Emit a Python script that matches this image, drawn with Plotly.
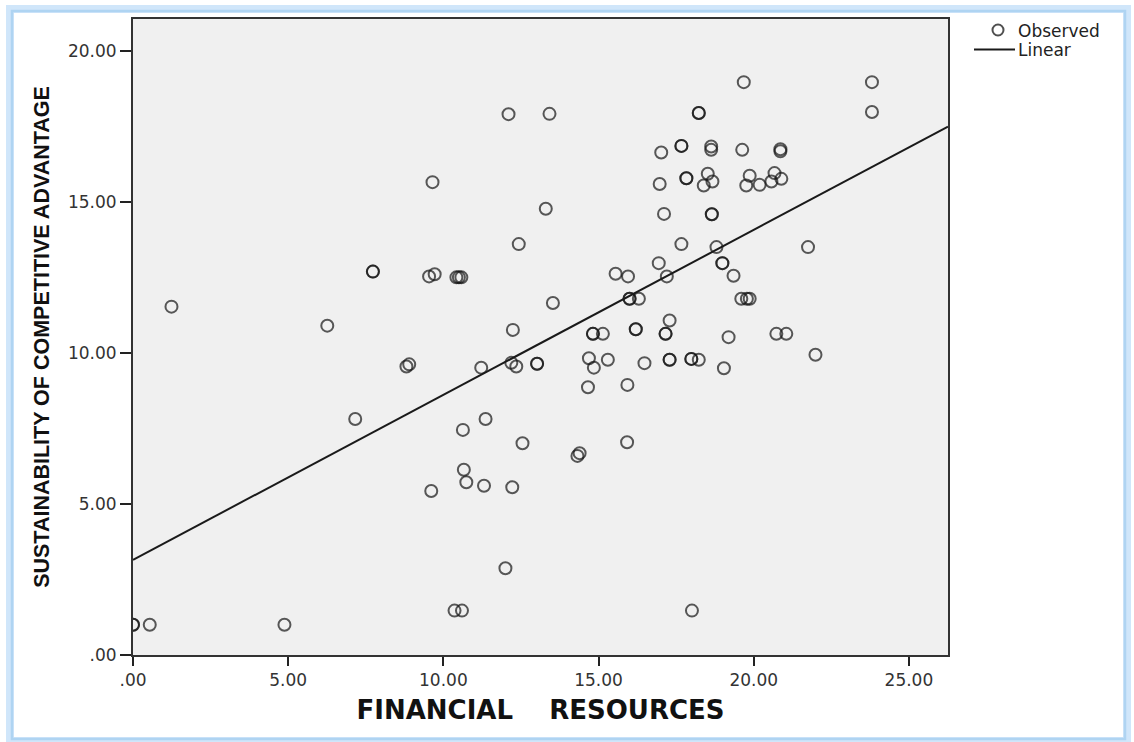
import plotly.graph_objects as go

# Observed scores, grouped in rows from the bottom of the scatter upward
financial_resources = [
    0.00, 0.00, 0.54, 4.88, 10.36, 10.60, 18.01, 12.00,
    9.61, 10.66, 10.74, 11.31, 12.22, 14.39, 14.32, 15.92, 12.55, 10.63, 11.36, 7.16,
    14.66, 15.93, 14.69, 15.30, 14.85, 16.48, 17.29, 17.29, 17.99, 17.99, 18.23, 19.04, 21.99,
    8.81, 8.90, 11.22, 12.19, 12.35, 13.02, 13.02,
    14.82, 14.82, 15.14, 16.20, 16.20, 17.16, 17.16, 17.29, 19.19, 20.73, 21.05, 12.24, 6.26, 1.24, 13.53,
    16.00, 16.00, 16.30, 19.60, 19.78, 19.87, 15.55, 15.95, 16.94, 17.20, 18.99, 18.99, 19.35,
    7.73, 7.73, 9.54, 9.72, 10.42, 10.50, 10.58,
    12.43, 17.67, 18.80, 21.75, 13.30, 17.11, 18.65, 18.65, 9.65, 16.97, 17.83, 17.83,
    18.52, 18.39, 18.67, 19.87, 19.76, 20.19, 20.67, 20.57, 20.89,
    17.02, 17.67, 17.67, 18.63, 18.63, 19.63, 20.86, 20.86,
    12.10, 13.42, 18.23, 18.23, 23.81, 23.81, 19.68,
]

competitive_advantage = [
    1.00, 1.00, 1.00, 1.00, 1.47, 1.47, 1.47, 2.87,
    5.43, 6.13, 5.72, 5.60, 5.55, 6.68, 6.59, 7.04, 7.01, 7.45, 7.81, 7.81,
    8.86, 8.94, 9.82, 9.77, 9.51, 9.66, 9.77, 9.77, 9.80, 9.80, 9.77, 9.49, 9.94,
    9.55, 9.62, 9.51, 9.67, 9.55, 9.64, 9.64,
    10.63, 10.63, 10.63, 10.78, 10.78, 10.63, 10.63, 11.07, 10.52, 10.63, 10.63, 10.76, 10.90, 11.53, 11.65,
    11.79, 11.79, 11.79, 11.79, 11.79, 11.79, 12.62, 12.53, 12.97, 12.53, 12.97, 12.97, 12.55,
    12.69, 12.69, 12.53, 12.60, 12.50, 12.50, 12.50,
    13.60, 13.60, 13.50, 13.50, 14.77, 14.60, 14.59, 14.59, 15.65, 15.59, 15.78, 15.78,
    15.93, 15.54, 15.67, 15.86, 15.54, 15.56, 15.95, 15.67, 15.76,
    16.63, 16.85, 16.85, 16.83, 16.72, 16.72, 16.74, 16.67,
    17.90, 17.91, 17.94, 17.94, 17.97, 18.96, 18.96,
]

# Linear fit (intercept, slope)
fit_intercept = 3.15
fit_slope = 0.546

x_range = [0, 26.26]
y_range = [0, 21.05]

x_ticks = [0, 5, 10, 15, 20, 25]
x_tick_text = [".00", "5.00", "10.00", "15.00", "20.00", "25.00"]
y_ticks = [0, 5, 10, 15, 20]
y_tick_text = [".00", "5.00", "10.00", "15.00", "20.00"]

legend_labels = ["Observed", "Linear"]

fit_x = list(x_range)
fit_y = [fit_intercept + fit_slope * v for v in fit_x]

marker_color = "rgba(20,20,20,0.70)"

fig = go.Figure()

fig.add_trace(go.Scatter(
    x=financial_resources, y=competitive_advantage,
    mode="markers", name=legend_labels[0],
    marker=dict(symbol="circle-open", size=12, color=marker_color,
                line=dict(width=2, color=marker_color)),
    cliponaxis=True,
))

fig.add_trace(go.Scatter(
    x=fit_x, y=fit_y, mode="lines", name=legend_labels[1],
    line=dict(color="#1a1a1a", width=2),
))

W, H = 1134, 742
ML, MR, MT, MB = 133, 186, 19, 87
pw = W - ML - MR
ph = H - MT - MB


def px_x(p):
    return (p - ML) / pw


def px_y(p):
    return (H - MB - p) / ph


tick_font = dict(family="DejaVu Sans", size=17, color="#333333")
legend_font = dict(family="DejaVu Sans", size=17, color="#222222")

# Hand-placed key to the right of the plot area
key_shapes = [
    dict(type="circle", xref="paper", yref="paper",
         x0=px_x(992.5), x1=px_x(1003.5), y0=px_y(35.5), y1=px_y(24.5),
         line=dict(color="rgba(20,20,20,0.75)", width=2),
         fillcolor="rgba(0,0,0,0)"),
    dict(type="line", xref="paper", yref="paper",
         x0=px_x(974), x1=px_x(1015), y0=px_y(49.5), y1=px_y(49.5),
         line=dict(color="#1a1a1a", width=2)),
]
key_annotations = [
    dict(text=legend_labels[0], xref="paper", yref="paper",
         x=px_x(1016), y=px_y(31), xanchor="left", yanchor="middle",
         showarrow=False, font=legend_font),
    dict(text=legend_labels[1], xref="paper", yref="paper",
         x=px_x(1016), y=px_y(50), xanchor="left", yanchor="middle",
         showarrow=False, font=legend_font),
]

frame_shapes = [
    dict(type="rect", xref="paper", yref="paper",
         x0=px_x(10), x1=px_x(1127), y0=px_y(741), y1=px_y(9),
         line=dict(color="rgba(170,210,245,0.55)", width=8),
         fillcolor="rgba(0,0,0,0)", layer="below"),
    dict(type="rect", xref="paper", yref="paper",
         x0=px_x(12), x1=px_x(1125), y0=px_y(739), y1=px_y(11),
         line=dict(color="rgb(175,212,242)", width=2.5),
         fillcolor="rgba(0,0,0,0)", layer="below"),
]

fig.update_layout(
    width=W, height=H,
    margin=dict(l=ML, r=MR, t=MT, b=MB, autoexpand=False),
    paper_bgcolor="white",
    plot_bgcolor="#f0f0f0",
    showlegend=False,
    xaxis=dict(
        range=x_range, tickvals=x_ticks, ticktext=x_tick_text,
        ticks="outside", ticklen=9, tickwidth=2, tickcolor="#222222",
        showline=True, linecolor="#333333", linewidth=2, mirror=True,
        showgrid=False, zeroline=False, tickfont=tick_font,
        title=dict(text="FINANCIAL\u00a0\u00a0\u00a0\u00a0RESOURCES",
                   font=dict(family="DejaVu Sans", size=26, color="#111111", weight="bold"),
                   standoff=11),
    ),
    yaxis=dict(
        range=y_range, tickvals=y_ticks, ticktext=y_tick_text,
        ticks="outside", ticklen=11, tickwidth=2, tickcolor="#222222",
        showline=True, linecolor="#333333", linewidth=2, mirror=True,
        showgrid=False, zeroline=False, tickfont=tick_font,
        title=dict(text="SUSTAINABILITY OF COMPETITIVE ADVANTAGE",
                   font=dict(family="Liberation Sans", size=21.5, color="#111111", weight="bold"),
                   standoff=12),
    ),
    shapes=frame_shapes + key_shapes,
    annotations=key_annotations,
)

fig.write_html("out.html")
